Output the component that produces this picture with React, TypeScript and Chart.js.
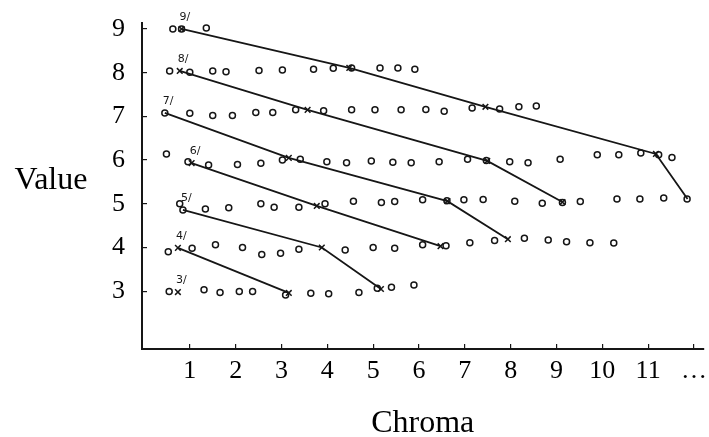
import { useEffect, useRef } from 'react';
import { Chart, registerables } from 'chart.js';

Chart.register(...registerables);

// Axis ticks
const chromaTicks = [1, 2, 3, 4, 5, 6, 7, 8, 9, 10, 11, 12];
const chromaTickLabels = ['1', '2', '3', '4', '5', '6', '7', '8', '9', '10', '11', '…'];
const valueTicks = [3, 4, 5, 6, 7, 8, 9];

// Observed samples per value row: [chroma, value]
const row9: number[][] = [[0.63, 9.0], [0.82, 9.0], [1.36, 9.02]];
const row8: number[][] = [
  [0.56, 8.04], [1.0, 8.01], [1.5, 8.04], [1.79, 8.02], [2.51, 8.05], [3.02, 8.06],
  [3.7, 8.08], [4.13, 8.1], [4.53, 8.11], [5.15, 8.11], [5.54, 8.11], [5.91, 8.08],
];
const row7: number[][] = [
  [0.455, 7.08], [1.0, 7.07], [1.5, 7.02], [1.93, 7.02], [2.44, 7.09], [2.81, 7.09],
  [3.31, 7.15], [3.92, 7.13], [4.53, 7.15], [5.04, 7.15], [5.61, 7.15], [6.15, 7.16],
  [6.55, 7.12], [7.16, 7.19], [7.76, 7.17], [8.18, 7.22], [8.56, 7.24],
];
const row6: number[][] = [
  [0.49, 6.14], [0.96, 5.96], [1.41, 5.89], [2.04, 5.9], [2.55, 5.93], [3.02, 6.0],
  [3.41, 6.02], [3.99, 5.96], [4.42, 5.94], [4.96, 5.98], [5.43, 5.95], [5.83, 5.94],
  [6.44, 5.96], [7.06, 6.02], [7.47, 5.99], [7.98, 5.96], [8.38, 5.94], [9.08, 6.02],
  [9.89, 6.12], [10.36, 6.12], [10.84, 6.16], [11.23, 6.12], [11.52, 6.06],
];
const row5: number[][] = [
  [0.78, 5.0], [0.85, 4.86], [1.34, 4.88], [1.85, 4.91], [2.55, 5.0], [2.84, 4.92],
  [3.38, 4.92], [3.95, 5.0], [4.57, 5.06], [5.18, 5.03], [5.47, 5.05], [6.08, 5.09],
  [6.61, 5.07], [6.98, 5.09], [7.4, 5.1], [8.09, 5.06], [8.69, 5.01], [9.13, 5.03],
  [9.52, 5.05], [10.32, 5.11], [10.82, 5.11], [11.34, 5.13], [11.85, 5.11],
];
const row4: number[][] = [
  [0.53, 3.9], [1.05, 3.98], [1.56, 4.06], [2.15, 4.0], [2.57, 3.84], [2.98, 3.87],
  [3.38, 3.96], [4.39, 3.94], [5.0, 4.0], [5.47, 3.98], [6.08, 4.06], [6.59, 4.04],
  [7.11, 4.11], [7.65, 4.16], [8.3, 4.21], [8.82, 4.17], [9.22, 4.13], [9.73, 4.11],
  [10.25, 4.1],
];
const row3: number[][] = [
  [0.55, 2.99], [1.31, 3.03], [1.66, 2.97], [2.08, 2.99], [2.37, 2.99], [3.09, 2.91],
  [3.64, 2.95], [4.03, 2.94], [4.69, 2.97], [5.09, 3.07], [5.4, 3.09], [5.89, 3.14],
];

// Constant-hue traces starting from each value row
const line9: number[][] = [[0.82, 9.0], [4.48, 8.11], [7.45, 7.22], [11.17, 6.14], [11.86, 5.11]];
const line8: number[][] = [[0.78, 8.04], [3.57, 7.15], [7.49, 5.98], [9.13, 5.04]];
const line7: number[][] = [[0.455, 7.08], [3.16, 6.05], [6.62, 5.06], [7.94, 4.19]];
const line6: number[][] = [[1.04, 5.93], [3.77, 4.95], [6.47, 4.03]];
const line5: number[][] = [[0.85, 4.86], [3.88, 4.0], [5.17, 3.05]];
const line4: number[][] = [[0.74, 3.99], [3.16, 2.96]];
const line3: number[][] = [[0.74, 2.98]];

const lineLabels = ['9/', '8/', '7/', '6/', '5/', '4/', '3/'];

const INK = '#161616';
const SERIF = '"Liberation Serif", "Times New Roman", serif';

const rows = [row9, row8, row7, row6, row5, row4, row3];
const lines = [line9, line8, line7, line6, line5, line4, line3];
const crossRadii = [
  [4, 4, 4, 4, 0],
  [4, 4, 4, 4],
  [0, 4, 4, 4],
  [4, 4, 4],
  [0, 4, 4],
  [4, 4],
  [4],
];

const toXY = (pts: number[][]) => pts.map(([c, v]) => ({ x: c, y: v }));

const annotations = {
  id: 'annotations',
  afterDatasetsDraw(chart: any) {
    const { ctx, scales, chartArea } = chart;
    const xs = scales.x;
    const ys = scales.y;
    ctx.save();
    ctx.fillStyle = INK;
    ctx.font = '11px "DejaVu Sans", sans-serif';
    ctx.textAlign = 'left';
    ctx.textBaseline = 'alphabetic';
    lines.forEach((pts, i) => {
      const [c, v] = pts[0];
      ctx.fillText(lineLabels[i], xs.getPixelForValue(c) - 2, ys.getPixelForValue(v) - 9);
    });
    ctx.font = `32px ${SERIF}`;
    ctx.textAlign = 'center';
    ctx.fillStyle = '#000';
    ctx.fillText('Value', chartArea.left - 91, (chartArea.top + chartArea.bottom) / 2 + 3);
    ctx.restore();
  },
};

export default function App() {
  const canvasRef = useRef<HTMLCanvasElement | null>(null);

  useEffect(() => {
    if (!canvasRef.current) return;

    const circleSets = rows.map((r) => ({
      data: toXY(r),
      showLine: false,
      pointStyle: 'circle' as const,
      pointRadius: 3,
      pointBorderWidth: 1.5,
      pointBorderColor: INK,
      pointBackgroundColor: 'rgba(255,255,255,0)',
      borderColor: INK,
    }));

    const lineSets = lines.map((l, i) => ({
      data: toXY(l),
      showLine: true,
      borderColor: INK,
      borderWidth: 1.8,
      tension: 0,
      pointStyle: 'crossRot' as const,
      pointRadius: crossRadii[i],
      pointBorderWidth: 1.5,
      pointBorderColor: INK,
      pointBackgroundColor: INK,
    }));

    const chart = new Chart(canvasRef.current, {
      type: 'scatter',
      data: { datasets: [...circleSets, ...lineSets] as any },
      options: {
        responsive: false,
        animation: false,
        events: [],
        layout: { padding: { left: 0, right: 1, top: 23, bottom: 0 } },
        plugins: { legend: { display: false }, tooltip: { enabled: false } },
        scales: {
          x: {
            type: 'linear',
            min: -0.043,
            max: 12.208,
            afterBuildTicks: (scale: any) => {
              scale.ticks = chromaTicks.map((value) => ({ value }));
            },
            afterFit: (scale: any) => {
              scale.height = 88;
              scale.paddingLeft = 0;
              scale.paddingRight = 0;
            },
            border: { display: true, color: INK, width: 2 },
            grid: { drawOnChartArea: false, drawTicks: true, tickLength: -5, color: INK, lineWidth: 1.2 },
            ticks: {
              autoSkip: false,
              maxRotation: 0,
              padding: 12,
              color: '#000',
              font: { family: SERIF, size: 26 },
              callback: (value: any) => chromaTickLabels[chromaTicks.indexOf(Number(value))] ?? '',
            },
            title: {
              display: true,
              text: 'Chroma',
              color: '#000',
              font: { family: SERIF, size: 32 },
              padding: { top: 0, bottom: -6 },
            },
          },
          y: {
            type: 'linear',
            min: 1.677,
            max: 9.137,
            afterBuildTicks: (scale: any) => {
              scale.ticks = valueTicks.map((value) => ({ value }));
            },
            afterFit: (scale: any) => {
              scale.width = 142;
              scale.paddingTop = 0;
              scale.paddingBottom = 0;
            },
            border: { display: true, color: INK, width: 2 },
            grid: { drawOnChartArea: false, drawTicks: true, tickLength: -5, color: INK, lineWidth: 1.2 },
            ticks: {
              autoSkip: false,
              padding: 22,
              color: '#000',
              font: { family: SERIF, size: 26 },
              callback: (value: any) => String(value),
            },
          },
        },
      },
      plugins: [annotations],
    });

    return () => chart.destroy();
  }, []);

  return (
    <div style={{ position: 'absolute', left: 0, top: 0, width: 709, height: 437, background: '#fff' }}>
      <canvas ref={canvasRef} width={709} height={437} style={{ display: 'block' }} />
    </div>
  );
}
